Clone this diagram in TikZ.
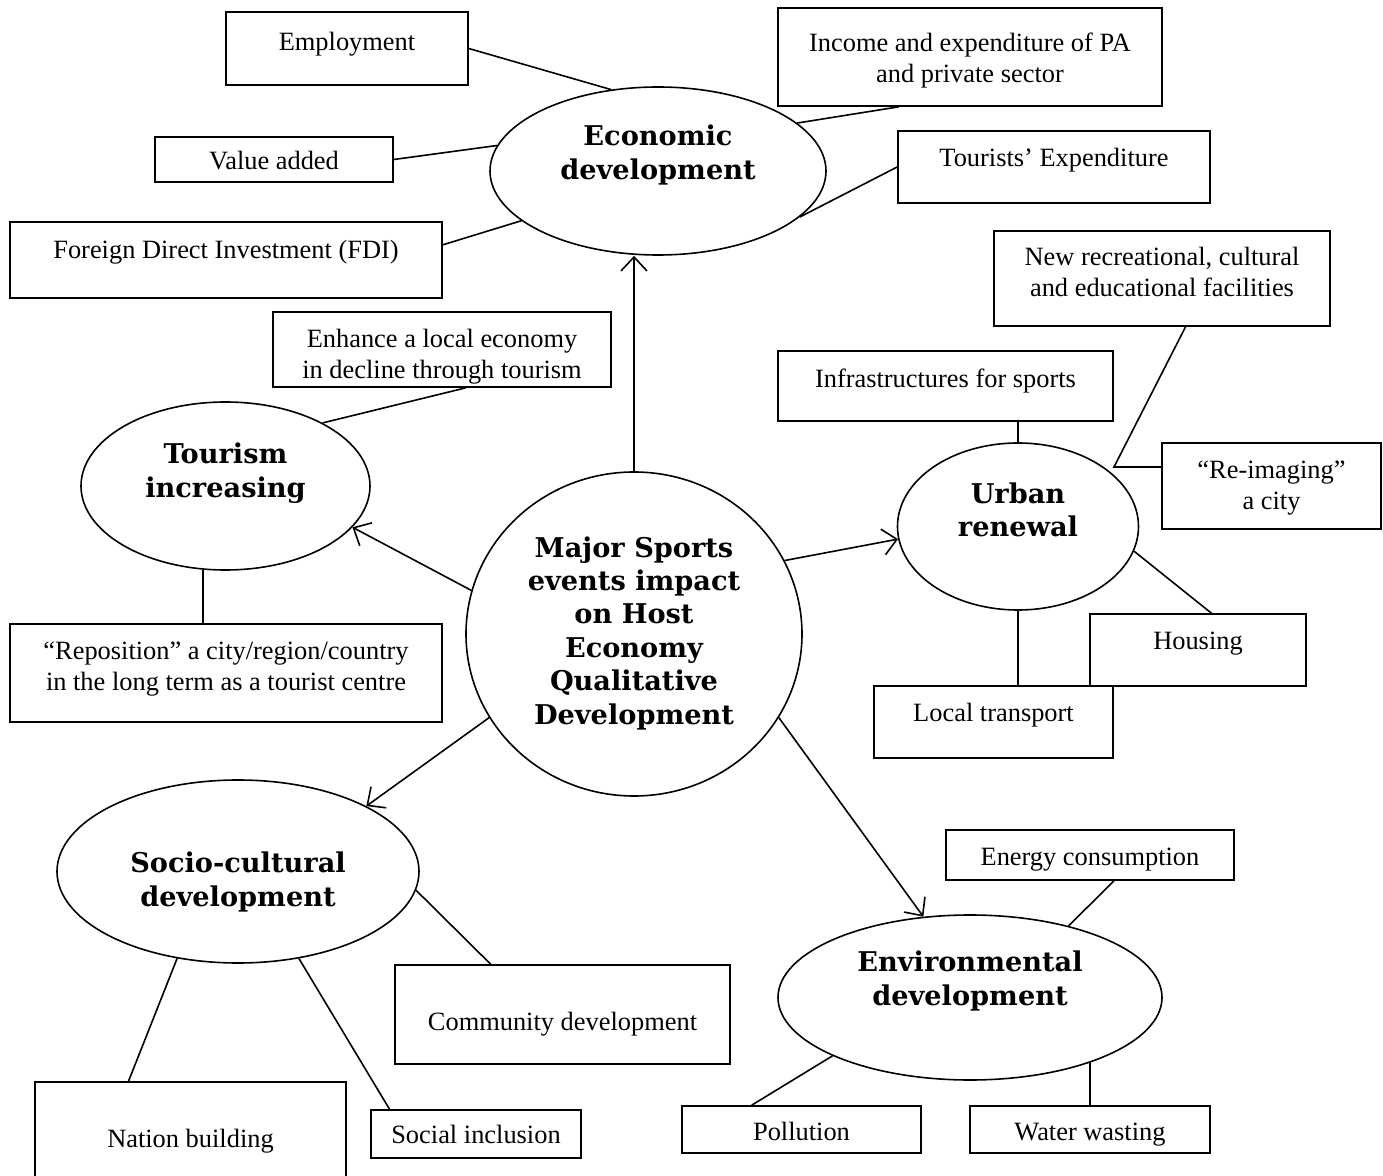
\documentclass[tikz,border=0pt]{standalone}
\usepackage{fontspec}
\setmainfont{Liberation Serif}
\newfontfamily\bubfont{DejaVu Serif}
\usepackage{tikz}
\usetikzlibrary{shapes}
\usetikzlibrary{calc}
\usetikzlibrary{arrows.meta}

\tikzset{
    infobox/.style={draw, rectangle, line width=0.8pt, inner sep=0pt},
    boxtext/.style={inner sep=0pt, align=center, anchor=north,
        font=\fontsize{13.2}{15.5}\selectfont},
    bubble/.style={draw, ellipse, line width=0.8pt, inner sep=0pt},
    bubtext/.style={inner sep=0pt, align=center,
        font=\bubfont\bfseries\fontsize{13.6}{16.7}\selectfont},
    link/.style={line width=0.8pt},
    impact/.style={line width=0.8pt, -{Straight Barb[length=7pt,width=13pt]}},
}

\begin{document}
\begin{tikzpicture}[x=0.5pt, y=-0.5pt]
    \useasboundingbox (0,0) rectangle (1383,1176);
    \foreach \nm/\cx/\cy/\w/\h/\dy/\txt in {
        emp/347/48.5/242/73/21/{Employment},
        inc/970/57/384/98/25/{Income and expenditure of PA\\and private sector},
        val/274/159.5/238/45/15/{Value added},
        tex/1054/167/312/72/18/{Tourists’ Expenditure},
        fdi/226/260/432/76/19/{Foreign Direct Investment (FDI)},
        rec/1162/278.5/336/95/17/{New recreational, cultural\\and educational facilities},
        enh/442/349.5/338/75/18/{Enhance a local economy\\in decline through tourism},
        inf/945.5/386/335/70/18/{Infrastructures for sports},
        img/1271.5/486/219/86/18/{“Re-imaging”\\a city},
        hou/1198/650/216/72/18/{Housing},
        loc/993.5/722/239/72/18/{Local transport},
        rep/226/673/432/98/18/{“Reposition” a city/region/country\\in the long term as a tourist centre},
        ene/1090/855/288/50/18/{Energy consumption},
        com/562.5/1014.5/335/99/48/{Community development},
        nat/190.5/1139/311/114/48/{Nation building},
        sin/476/1134/210/48/16/{Social inclusion},
        pol/801.5/1129.5/239/47/17/{Pollution},
        wat/1090/1129.5/240/47/17/{Water wasting}} {
        \node[infobox, minimum width=\w*0.5pt, minimum height=\h*0.5pt] (\nm) at (\cx,\cy) {};
        \node[boxtext] (\nm-t) at ([yshift=-\dy*0.5pt]\nm.north) {\txt};
    }
    \foreach \nm/\cx/\cy/\rx/\ry/\ty/\txt in {
        eco/658/171/168/84/155/{Economic\\development},
        tur/225.5/486/144.5/84/473/{Tourism\\increasing},
        maj/634/634/168/162/633/{Major Sports\\events impact\\on Host\\Economy\\Qualitative\\Development},
        urb/1018/526.5/120.5/83.5/510/{Urban\\renewal},
        soc/238/871.5/181/91.5/882/{Socio-cultural\\development},
        env/970/997.5/192/82.5/981/{Environmental\\development}} {
        \node[bubble, minimum width=\rx*1pt, minimum height=\ry*1pt] (\nm) at (\cx,\cy) {};
        \node[bubtext] (\nm-t) at (\cx,\ty) {\txt};
    }
    \foreach \a/\b in {emp.east/eco.120, inc.-145/eco.19, val.east/eco.171,
        tex.west/eco.-18, fdi.4/eco.-160, enh.-58/tur.33, hou.70/urb.-12,
        ene.-47/env.36, pol.154/env.-157, com.145/soc.-6, nat.137/soc.-125,
        sin.164/soc.-55}
        \draw[link] (\a) -- (\b);
    \draw[link] (tur.-105) -- (tur.-105 |- rep.north);
    \draw[link] (urb.north |- inf.south) -- (urb.north);
    \draw[link] (urb.south) -- (urb.south |- loc.north);
    \draw[link] (wat.north) -- (wat.north |- env.-28);
    \coordinate (rec-j) at (1114,467);
    \draw[link] (rec.-64) -- (rec-j) -- (img.west |- rec-j);
    \draw[impact] (maj.north) -- (maj.north |- eco.south);
    \draw[impact] (maj.165) -- (tur.-18);
    \draw[impact] (maj.26) -- (urb.186);
    \draw[impact] (maj.210) -- (soc.27);
    \draw[impact] (maj.-30) -- (env.120);
\end{tikzpicture}
\end{document}
